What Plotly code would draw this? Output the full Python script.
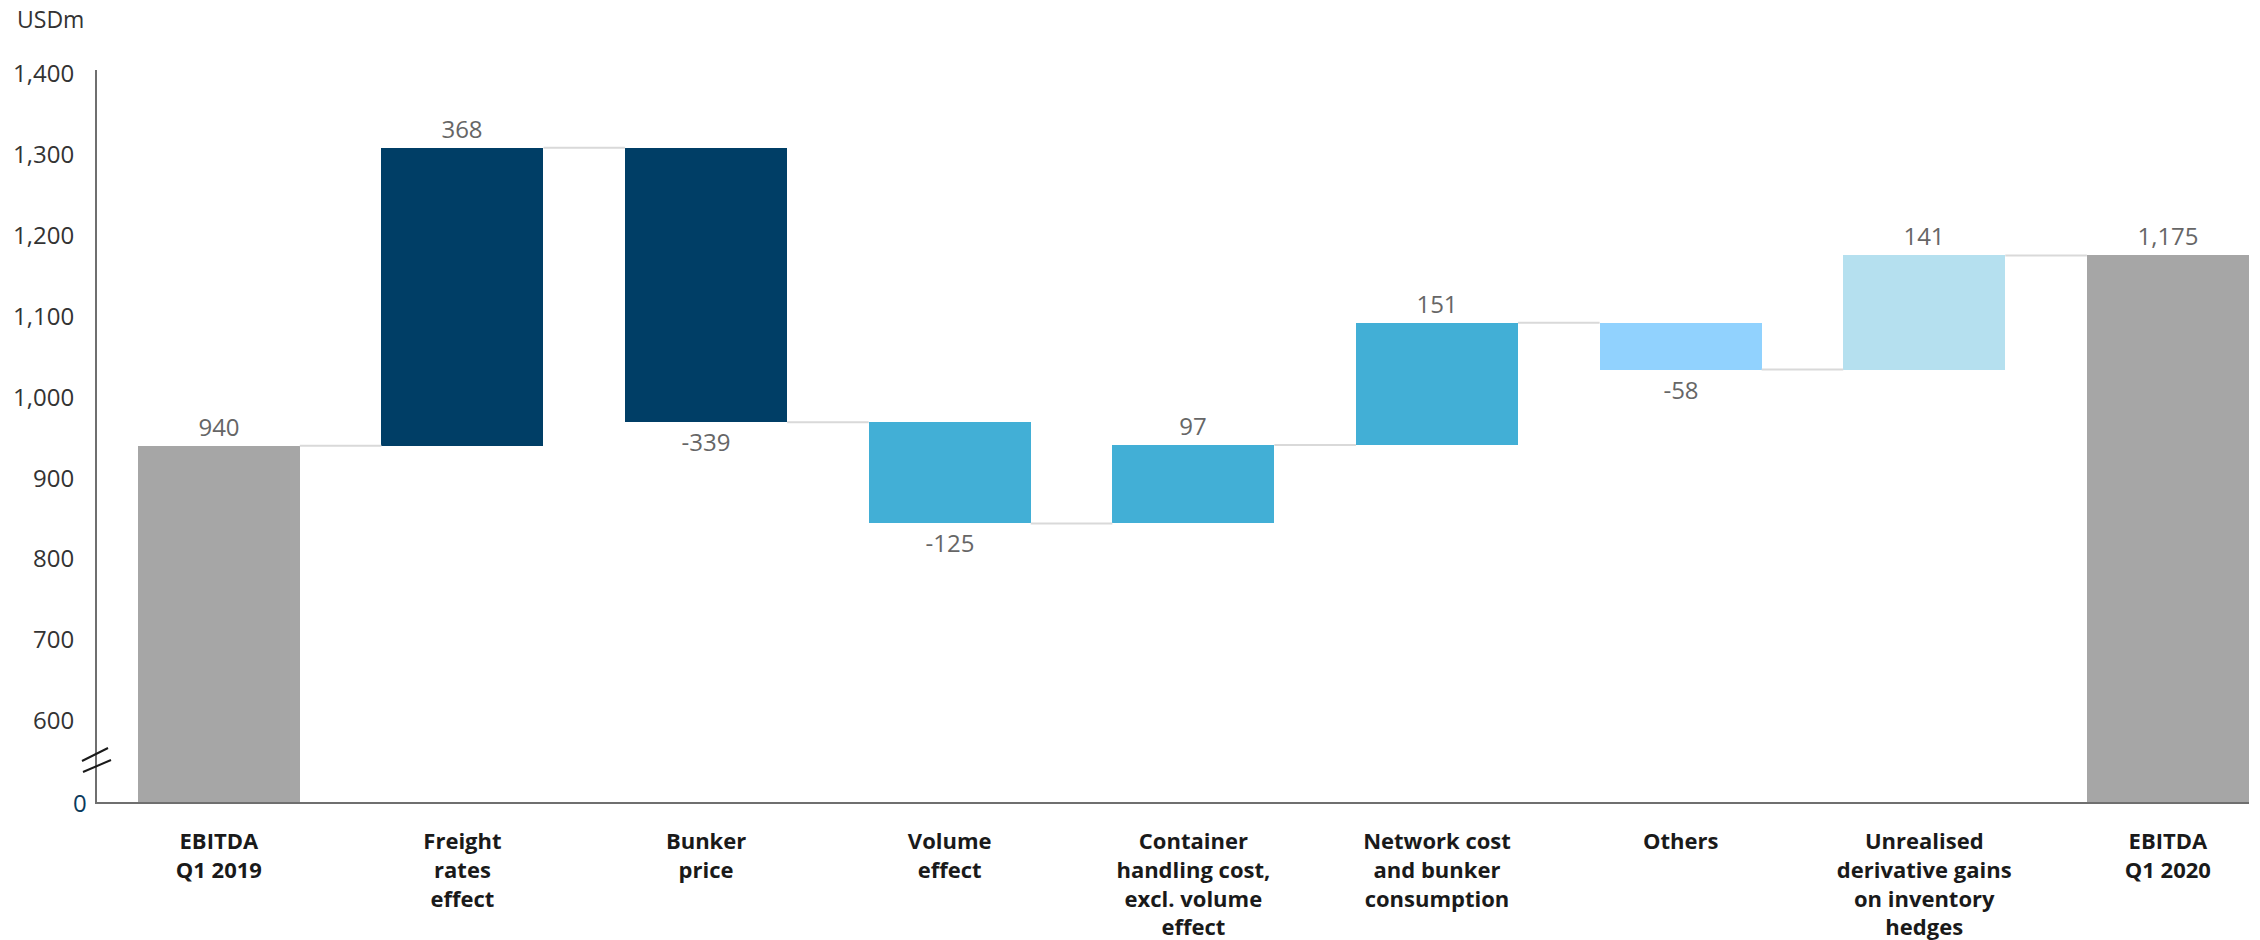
import plotly.graph_objects as go

# ---------------- data ----------------
categories = [
    "EBITDA<br>Q1 2019",
    "Freight<br>rates<br>effect",
    "Bunker<br>price",
    "Volume<br>effect",
    "Container<br>handling cost,<br>excl. volume<br>effect",
    "Network cost<br>and bunker<br>consumption",
    "Others",
    "Unrealised<br>derivative gains<br>on inventory<br>hedges",
    "EBITDA<br>Q1 2020",
]
measures = ["total", "relative", "relative", "relative", "relative",
            "relative", "relative", "relative", "total"]
values = [940, 368, -339, -125, 97, 151, -58, 141, 1175]
value_labels = ["940", "368", "-339", "-125", "97", "151", "-58", "141", "1,175"]
bar_colors = ["#a6a6a6", "#003e66", "#003e66", "#42afd6", "#42afd6",
              "#42afd6", "#91d2fe", "#b5e0ef", "#a6a6a6"]

# axis is broken: the bottom of the visible range (500) stands for 0
axis_floor = 500
y_tick_vals = [600, 700, 800, 900, 1000, 1100, 1200, 1300, 1400]
y_tick_text = ["600", "700", "800", "900", "1,000", "1,100", "1,200", "1,300", "1,400"]

# ---------------- geometry helpers ----------------
W, H = 2260, 940
ML, MR, MT, MB = 97, 11, 70, 138
BAR_W = 0.665
FONT = "Open Sans"

bases, heights, levels = [], [], []
level = 0
for m, v in zip(measures, values):
    if m == "total":
        bases.append(0)
        heights.append(v)
        level = v
    else:
        bases.append(level)
        heights.append(v)
        level = level + v
    levels.append(level)

xs = list(range(len(categories)))

fig = go.Figure()

# connector lines
cx, cy = [], []
for i in range(len(categories) - 1):
    cx += [xs[i] + BAR_W / 2, xs[i + 1] - BAR_W / 2, None]
    cy += [levels[i], levels[i], None]
fig.add_trace(go.Scatter(x=cx, y=cy, mode="lines",
                         line=dict(color="#d9d9d9", width=2),
                         hoverinfo="skip", showlegend=False))

fig.add_trace(go.Bar(
    x=xs, y=heights, base=bases, width=BAR_W,
    marker=dict(color=bar_colors, line=dict(width=0)),
    text=value_labels, textposition="outside", cliponaxis=False,
    textfont=dict(family=FONT, size=24, color="#666666"),
    showlegend=False,
))

plot_w = W - ML - MR
plot_h = H - MT - MB

def px_x(px):
    return (px - ML) / plot_w

def px_y(py):
    return (H - MB - py) / plot_h

# axis break marks
for (x0, y0, x1, y1) in [(82, 761, 108, 748), (83, 772, 111, 760)]:
    fig.add_shape(type="line", xref="paper", yref="paper",
                  x0=px_x(x0), y0=px_y(y0), x1=px_x(x1), y1=px_y(y1),
                  line=dict(color="#1a1a1a", width=2), layer="above")

# "0" label at the bottom of the broken axis
fig.add_annotation(text="0", xref="paper", yref="y",
                   x=px_x(89), y=axis_floor, xanchor="right", yanchor="middle",
                   showarrow=False, font=dict(family=FONT, size=24, color="#0b3a5c"))

fig.add_annotation(text="USDm", xref="paper", yref="paper",
                   x=px_x(15), y=px_y(19), xanchor="left", yanchor="middle",
                   showarrow=False, font=dict(family=FONT, size=23, color="#333333"))

fig.update_layout(
    width=W, height=H,
    margin=dict(l=ML, r=MR, t=MT, b=MB),
    plot_bgcolor="white", paper_bgcolor="white",
    bargap=0,
    font=dict(family=FONT),
)
fig.update_xaxes(
    range=[-0.5, 8.333], automargin=False,
    tickmode="array", tickvals=xs, ticktext=categories,
    tickfont=dict(family=FONT, size=22, color="#1a1a1a", weight=700),
    showline=True, linecolor="#6f6f6f", linewidth=2,
    showgrid=False, zeroline=False, ticks="", ticklabelstandoff=19,
)
fig.update_yaxes(
    range=[axis_floor, 1404], automargin=False,
    tickmode="array", tickvals=y_tick_vals, ticktext=y_tick_text,
    tickfont=dict(family=FONT, size=24, color="#333333"),
    showline=True, linecolor="#6f6f6f", linewidth=2,
    showgrid=False, zeroline=False, ticks="", ticklabelstandoff=16,
)

fig.write_html("out.html")
